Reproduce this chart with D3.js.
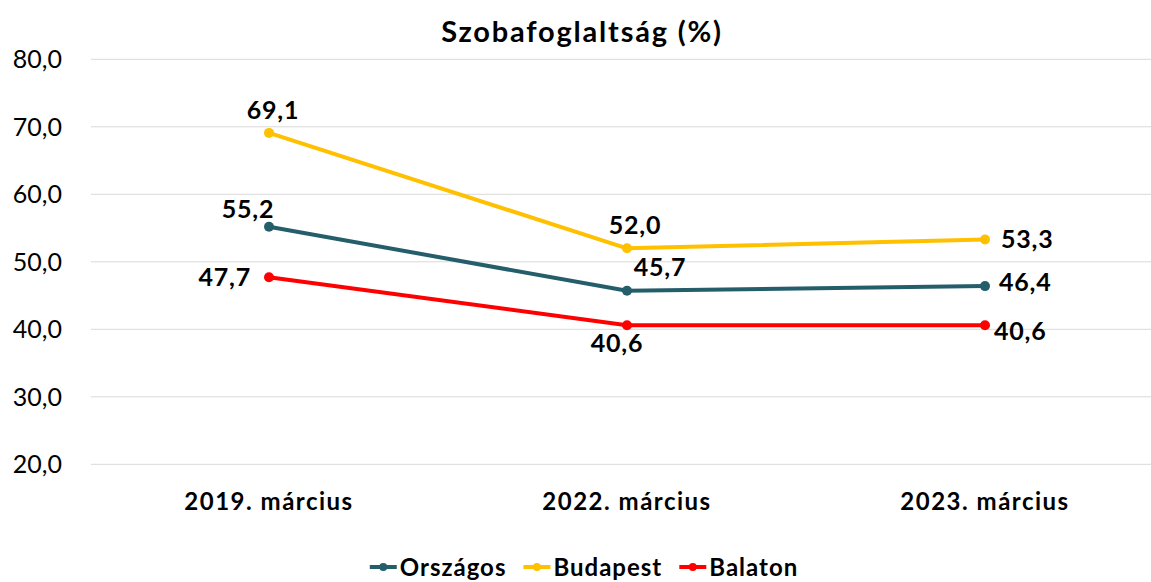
<!DOCTYPE html>
<html>
<head>
<meta charset="utf-8">
<script src="https://cdn.jsdelivr.net/npm/d3@7"></script>
<style>
  body { margin: 0; background: #fff; }
  svg { display: block; font-family: Lato, "Open Sans", sans-serif; }
</style>
</head>
<body>
<svg></svg>
<script>
const width = 1151
const height = 582

const categories = ['2019. március', '2022. március', '2023. március']
const seriesNames = ['Országos', 'Budapest', 'Balaton']
const orszagos = [55.2, 45.7, 46.4]
const budapest = [69.1, 52.0, 53.3]
const balaton = [47.7, 40.6, 40.6]
const yTicks = [20, 30, 40, 50, 60, 70, 80]

const colors = ['#255E6B', '#FFC000', '#FF0000']
const series = [orszagos, budapest, balaton]

// label offsets relative to the point: [dx, dy, anchor]
const labelPos = [
  [[-21, -17, 'middle'], [33, -24, 'middle'], [14, -4, 'start']],
  [[4, -23, 'middle'], [8, -23, 'middle'], [16, 0, 'start']],
  [[-18, 0, 'end'], [-10, 18, 'middle'], [9, 6, 'start']]
]

const fmt = v => d3.format('.1f')(v).replace('.', ',')

const svg = d3.select('svg')
    .attr('width', width)
    .attr('height', height)

const xScale = d3.scalePoint()
    .domain(categories)
    .range([90, 1164])
    .padding(0.5)

const yScale = d3.scaleLinear()
    .domain([20, 80])
    .range([464.3, 59.3])

// gridlines
svg.append('g')
  .selectAll('line')
  .data(yTicks)
  .enter()
  .append('line')
    .attr('x1', 91)
    .attr('x2', width)
    .attr('y1', d => yScale(d))
    .attr('y2', d => yScale(d))
    .attr('stroke', '#d9d9d9')
    .attr('stroke-width', 1)

// y axis labels
svg.append('g')
  .selectAll('text')
  .data(yTicks)
  .enter()
  .append('text')
    .attr('x', 62)
    .attr('y', d => yScale(d))
    .attr('dy', '0.35em')
    .attr('text-anchor', 'end')
    .attr('font-size', 25)
    .attr('fill', '#000')
    .text(d => fmt(d))

// category labels
svg.append('g')
  .selectAll('text')
  .data(categories)
  .enter()
  .append('text')
    .attr('x', d => xScale(d))
    .attr('y', 502)
    .attr('dy', '0.35em')
    .attr('text-anchor', 'middle')
    .attr('font-size', 24)
    .attr('letter-spacing', 1.5)
    .attr('font-weight', 'bold')
    .text(d => d)

// title
svg.append('text')
    .attr('x', 582)
    .attr('y', 32)
    .attr('dy', '0.35em')
    .attr('text-anchor', 'middle')
    .attr('font-size', 29)
    .attr('letter-spacing', 1.8)
    .attr('font-weight', 'bold')
    .text('Szobafoglaltság (%)')

const line = d3.line()
    .x((d, i) => xScale(categories[i]))
    .y(d => yScale(d))

series.forEach((values, s) => {
  const g = svg.append('g')
  g.append('path')
      .datum(values)
      .attr('d', line)
      .attr('fill', 'none')
      .attr('stroke', colors[s])
      .attr('stroke-width', 4)
      .attr('stroke-linejoin', 'round')
      .attr('stroke-linecap', 'round')

  g.selectAll('circle')
    .data(values)
    .enter()
    .append('circle')
      .attr('cx', (d, i) => xScale(categories[i]))
      .attr('cy', d => yScale(d))
      .attr('r', 5)
      .attr('fill', colors[s])

  g.selectAll('text')
    .data(values)
    .enter()
    .append('text')
      .attr('x', (d, i) => xScale(categories[i]) + labelPos[s][i][0])
      .attr('y', (d, i) => yScale(d) + labelPos[s][i][1])
      .attr('dy', '0.35em')
      .attr('text-anchor', (d, i) => labelPos[s][i][2])
      .attr('font-size', 25)
      .attr('letter-spacing', 0.8)
      .attr('font-weight', 'bold')
      .text(d => fmt(d))
})

// legend (kept just inside the bottom edge)
const legend = svg.append('g')
let lx = 0
seriesNames.forEach((name, s) => {
  const item = legend.append('g').attr('transform', `translate(${lx},0)`)
  item.append('line')
      .attr('x1', 0).attr('x2', 27)
      .attr('y1', -9).attr('y2', -9)
      .attr('stroke', colors[s])
      .attr('stroke-width', 4)
  item.append('circle')
      .attr('cx', 13.5).attr('cy', -9).attr('r', 4)
      .attr('fill', colors[s])
  const t = item.append('text')
      .attr('x', 30)
      .attr('y', 0)
      .attr('font-size', 24)
      .attr('letter-spacing', 1)
      .attr('font-weight', 'bold')
      .text(name)
  lx += 30 + t.node().getComputedTextLength() + 17
})
const legendWidth = lx - 17
legend.attr('transform', `translate(${584 - legendWidth / 2},576)`)
</script>
</body>
</html>
